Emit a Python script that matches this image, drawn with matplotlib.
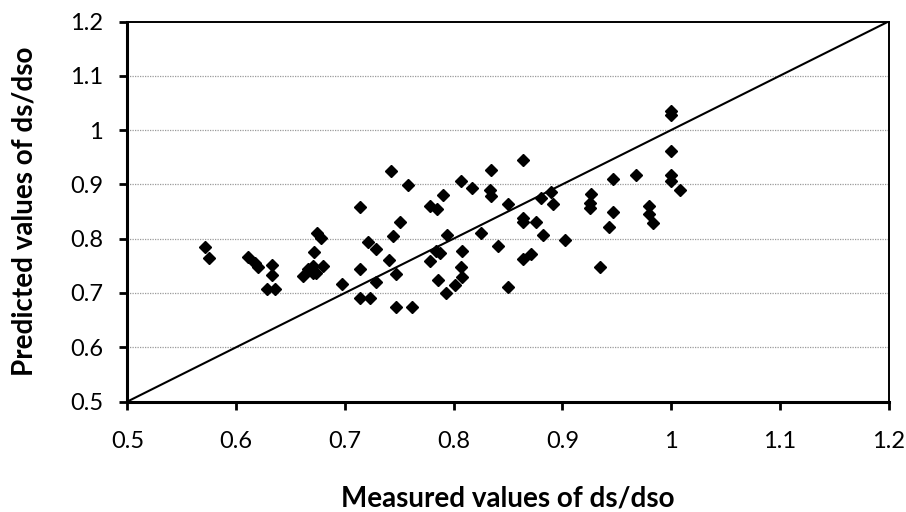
import matplotlib
matplotlib.use("Agg")
import matplotlib.pyplot as plt

plt.rcParams["font.family"] = ["Lato", "DejaVu Sans"]

# measured vs predicted ds/dso
measured = [
    0.571, 0.575, 0.611, 0.617, 0.620, 0.633, 0.633, 0.628, 0.636, 0.661,
    0.666, 0.671, 0.671, 0.673, 0.680, 0.672, 0.674, 0.678, 0.697, 0.714,
    0.714, 0.714, 0.723, 0.721, 0.729, 0.729, 0.741, 0.744, 0.742, 0.751,
    0.747, 0.747, 0.762, 0.758, 0.778, 0.785, 0.790, 0.778, 0.784, 0.787,
    0.794, 0.786, 0.793, 0.801, 0.808, 0.807, 0.808, 0.807, 0.817, 0.825,
    0.834, 0.833, 0.834, 0.841, 0.850, 0.850, 0.864, 0.864, 0.864, 0.876,
    0.882, 0.864, 0.871, 0.880, 0.890, 0.891, 0.902, 0.926, 0.925, 0.925,
    0.935, 0.947, 0.947, 0.943, 0.968, 0.980, 0.980, 0.983, 1.000, 1.000,
    1.000, 1.000, 1.000, 1.008,
]
predicted = [
    0.784, 0.765, 0.767, 0.755, 0.747, 0.751, 0.733, 0.707, 0.707, 0.732,
    0.745, 0.750, 0.737, 0.736, 0.750, 0.776, 0.810, 0.802, 0.716, 0.744,
    0.858, 0.690, 0.690, 0.793, 0.781, 0.720, 0.760, 0.805, 0.925, 0.830,
    0.735, 0.675, 0.675, 0.899, 0.860, 0.855, 0.881, 0.759, 0.778, 0.774,
    0.806, 0.724, 0.699, 0.714, 0.730, 0.747, 0.778, 0.906, 0.893, 0.811,
    0.926, 0.889, 0.879, 0.787, 0.864, 0.711, 0.945, 0.838, 0.830, 0.831,
    0.807, 0.762, 0.771, 0.874, 0.886, 0.863, 0.797, 0.882, 0.866, 0.856,
    0.748, 0.909, 0.849, 0.822, 0.918, 0.860, 0.845, 0.829, 1.035, 1.028,
    0.961, 0.918, 0.907, 0.890,
]

# line of perfect agreement
ref_line = [0.5, 1.2]
ticks = [0.5, 0.6, 0.7, 0.8, 0.9, 1.0, 1.1, 1.2]
tick_labels = ["0.5", "0.6", "0.7", "0.8", "0.9", "1", "1.1", "1.2"]


def main():
    fig = plt.figure(figsize=(9.06, 5.12), dpi=100)
    ax = fig.add_axes([0.1407, 0.2158, 0.8400, 0.7422])

    ax.set_xlim(0.5, 1.2)
    ax.set_ylim(0.5, 1.2)

    # horizontal dotted grid only
    for t in ticks[1:-1]:
        ax.axhline(t, color="#9a9a9a", lw=0.9, ls=(0, (1, 1)), zorder=0)

    ax.plot(ref_line, ref_line, color="black", lw=1.5, zorder=2)
    ax.plot(measured, predicted, ls="none", marker="D", ms=6.6,
            color="black", zorder=3, clip_on=False)

    ax.set_xticks(ticks)
    ax.set_xticklabels(tick_labels)
    ax.set_yticks(ticks)
    ax.set_yticklabels(tick_labels)

    for side in ["left", "bottom"]:
        ax.spines[side].set_linewidth(2.2)
    for side in ["top", "right"]:
        ax.spines[side].set_linewidth(1.4)

    ax.tick_params(axis="both", direction="out", length=5.5, width=2.0,
                   labelsize=17, colors="black")
    ax.tick_params(axis="x", pad=16)
    ax.tick_params(axis="y", pad=12)

    ax.set_xlabel("Measured values of ds/dso", fontsize=20,
                  fontweight="bold")
    ax.set_ylabel("Predicted values of ds/dso", fontsize=20,
                  fontweight="bold")
    ax.xaxis.set_label_coords(0.5, -0.222)
    ax.yaxis.set_label_coords(-0.118, 0.5)

    fig.savefig("out.png", dpi=100)
    plt.close(fig)


if __name__ == "__main__":
    main()
